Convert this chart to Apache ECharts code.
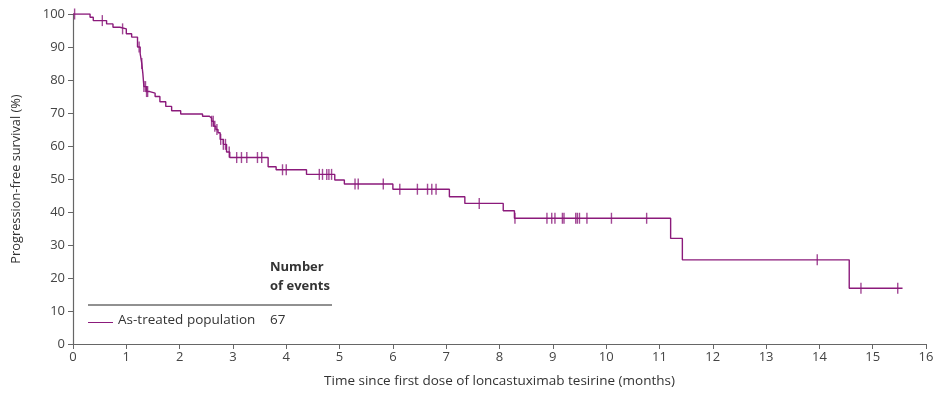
<!DOCTYPE html>
<html>
<head>
<meta charset="utf-8">
<script src="https://cdn.jsdelivr.net/npm/echarts@6/dist/echarts.min.js"></script>
<style>
html,body{margin:0;padding:0;background:#fff;}
#chart{width:946px;height:400px;}
</style>
</head>
<body>
<div id="chart"></div>
<script>
// Kaplan-Meier step points: time (months) and survival (%) after the step
var stepTimes = [0, 0.32, 0.38, 0.63, 0.75, 0.88, 1.0, 1.1, 1.21, 1.26, 1.29, 1.31, 1.33, 1.38, 1.44, 1.54, 1.63, 1.74, 1.85, 2.02, 2.43, 2.56, 2.6, 2.64, 2.68, 2.72, 2.76, 2.82, 2.88, 2.94, 3.66, 3.81, 4.38, 4.91, 5.09, 6.0, 7.06, 7.35, 8.07, 8.28, 11.21, 11.43, 14.56, 15.56];
var stepSurv  = [100, 99, 98, 97, 96, 95.5, 94, 93, 90, 88, 85, 82, 78, 76.5, 76, 75, 73.4, 72, 70.7, 69.7, 69, 68.4, 67.5, 66, 65, 64, 62, 60.5, 58.2, 56.5, 53.7, 52.8, 51.4, 49.7, 48.5, 46.9, 44.6, 42.6, 40.4, 38.1, 32, 25.5, 16.9, 16.9];
// Censored observations (months)
var censorTimes = [0.03, 0.55, 0.93, 1.24, 1.29, 1.33, 1.36, 1.38, 1.4, 2.6, 2.63, 2.66, 2.7, 2.77, 2.82, 2.86, 2.93, 3.07, 3.16, 3.26, 3.46, 3.54, 3.93, 4.0, 4.62, 4.68, 4.76, 4.8, 4.85, 5.29, 5.35, 5.82, 6.13, 6.46, 6.65, 6.73, 6.81, 7.62, 8.29, 8.89, 8.98, 9.04, 9.18, 9.21, 9.43, 9.46, 9.5, 9.64, 10.1, 10.76, 13.96, 14.78, 15.47];
var xTicks = [0,1,2,3,4,5,6,7,8,9,10,11,12,13,14,15,16];
var yTicks = [0,10,20,30,40,50,60,70,80,90,100];
var seriesName = 'As-treated population';
var nEvents = '67';

function survAt(t){
  var s = stepSurv[0];
  for (var i=0;i<stepTimes.length;i++){ if (stepTimes[i] <= t) s = stepSurv[i]; }
  return s;
}
var curve = stepTimes.map(function(t,i){return [t, stepSurv[i]];});
var censors = censorTimes.map(function(t){return [t, survAt(t)];});

var col = '#8B1A7B';
var font = 'Open Sans';
var chart = echarts.init(document.getElementById('chart'), null, {renderer:'canvas'});
chart.setOption({
  animation:false,
  backgroundColor:'#fff',
  grid:{left:73, right:20, top:14, bottom:56},
  xAxis:{
    type:'value', min:0, max:16, interval:1,
    name:'Time since first dose of loncastuximab tesirine (months)',
    nameLocation:'middle', nameGap:30,
    nameTextStyle:{fontFamily:font, fontSize:13.5, color:'#333'},
    axisLine:{lineStyle:{color:'#666', width:1.2}},
    axisTick:{show:true, length:5, lineStyle:{color:'#666'}},
    axisLabel:{fontFamily:font, fontSize:13, color:'#444', margin:7,
      formatter:function(v){return xTicks.indexOf(v)>=0? String(v):'';}},
    splitLine:{show:false}
  },
  yAxis:{
    type:'value', min:0, max:100, interval:10,
    name:'Progression-free survival (%)',
    nameLocation:'middle', nameGap:50,
    nameTextStyle:{fontFamily:font, fontSize:12.8, color:'#333'},
    axisLine:{show:true, lineStyle:{color:'#666', width:1.2}},
    axisTick:{show:true, length:5, lineStyle:{color:'#666'}},
    axisLabel:{fontFamily:font, fontSize:13, color:'#444', margin:8,
      formatter:function(v){return yTicks.indexOf(v)>=0? String(v):'';}},
    splitLine:{show:false}
  },
  series:[
    {type:'line', step:'end', data:curve, showSymbol:false, symbol:'none',
     lineStyle:{color:col, width:1.4}, z:2},
    {type:'scatter', data:censors, symbol:'rect', symbolSize:[1.4, 11],
     itemStyle:{color:col}, z:3}
  ],
  graphic:[
    {type:'text', left:270, top:261, style:{text:'Number', font:'bold 13px "Open Sans"', fill:'#333'}},
    {type:'text', left:270, top:280, style:{text:'of events', font:'bold 13px "Open Sans"', fill:'#333'}},
    {type:'line', shape:{x1:88, y1:305, x2:332, y2:305}, style:{stroke:'#222', lineWidth:1}},
    {type:'line', shape:{x1:88, y1:322.5, x2:113, y2:322.5}, style:{stroke:col, lineWidth:1}},
    {type:'text', left:118, top:313, style:{text:seriesName, font:'13.5px "Open Sans"', fill:'#333'}},
    {type:'text', left:270, top:313, style:{text:nEvents, font:'13.5px "Open Sans"', fill:'#333'}}
  ]
});
</script>
</body>
</html>
